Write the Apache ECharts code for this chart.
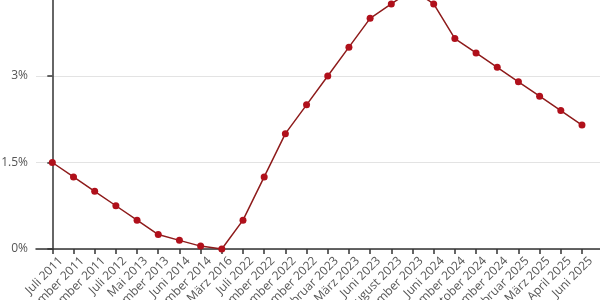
<!DOCTYPE html>
<html><head><meta charset="utf-8">
<script src="https://cdn.jsdelivr.net/npm/echarts@6/dist/echarts.min.js"></script>
<style>html,body{margin:0;padding:0;background:#fff}#c{width:600px;height:300px}</style>
</head><body><div id="c"></div>
<script>
var categories = ["Juli 2011","November 2011","Dezember 2011","Juli 2012","Mai 2013","November 2013","Juni 2014","September 2014","März 2016","Juli 2022","September 2022","November 2022","Dezember 2022","Februar 2023","März 2023","Juni 2023","August 2023","September 2023","Juni 2024","September 2024","Oktober 2024","Dezember 2024","Februar 2025","März 2025","April 2025","Juni 2025"];
var rates = [1.5,1.25,1.0,0.75,0.5,0.25,0.15,0.05,0.0,0.5,1.25,2.0,2.5,3.0,3.5,4.0,4.25,4.5,4.25,3.65,3.40,3.15,2.90,2.65,2.40,2.15];
var yTicks = [0,1.5,3,4.5];

var idx = categories.map(function(_, i){ return i; });
var LABEL_SHIFT = 0.41; // rotated labels sit slightly right of their tick
var labelPos = idx.map(function(i){ return i + LABEL_SHIFT; });
var chart = echarts.init(document.getElementById('c'), null, {renderer:'canvas'});
chart.setOption({
  animation:false,
  grid:{left:36, right:0, top:-10.5, bottom:51, containLabel:false, outerBoundsMode:'none'},
  xAxis:{
    type:'value', min:-0.77, max:25.85,
    axisLine:{show:true, lineStyle:{color:'#333', width:1.5}},
    axisTick:{show:true, customValues:idx, length:5, lineStyle:{color:'#333', width:1.5}},
    axisLabel:{customValues:labelPos, rotate:45, color:'#555', fontSize:12, fontFamily:'Open Sans', margin:10,
      showMinLabel:true, showMaxLabel:true, hideOverlap:false,
      formatter:function(v){ return categories[Math.round(v - LABEL_SHIFT)]; }},
    splitLine:{show:false}
  },
  yAxis:{
    type:'value', min:0, max:4.5, interval:1.5,
    axisLine:{show:true, lineStyle:{color:'#333', width:1.5}},
    axisTick:{show:true, length:5, lineStyle:{color:'#333', width:1.5}},
    axisLabel:{color:'#555', fontSize:12, fontFamily:'Open Sans', margin:8,
      formatter:function(v){ return String(v) + '%'; }},
    splitLine:{show:true, lineStyle:{color:'#e3e3e3', width:1}}
  },
  series:[{
    type:'line',
    data:rates.map(function(v,i){ return [i, v]; }),
    symbol:'circle', symbolSize:7,
    lineStyle:{color:'#8e1b1b', width:1.5},
    itemStyle:{color:'#b0101b'},
    clip:true
  }]
});
</script></body></html>
